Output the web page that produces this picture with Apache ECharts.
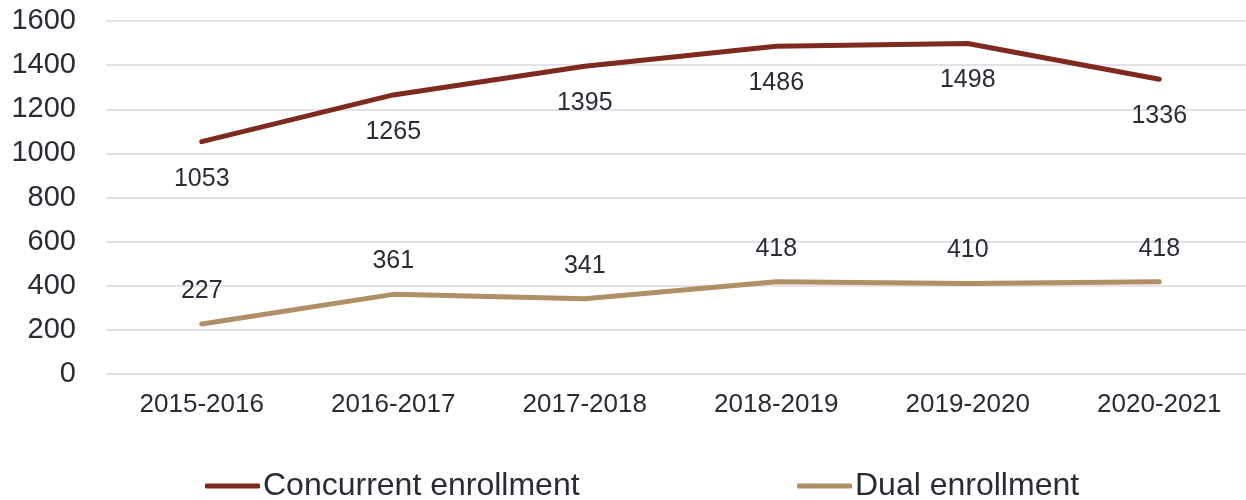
<!DOCTYPE html>
<html><head><meta charset="utf-8">
<script src="https://cdn.jsdelivr.net/npm/echarts@6/dist/echarts.min.js"></script>
<style>html,body{margin:0;padding:0;background:#fff}#c{width:1246px;height:500px}</style>
</head><body><div id="c"></div>
<script>
const categories = ['2015-2016','2016-2017','2017-2018','2018-2019','2019-2020','2020-2021'];
const concurrent = [1053,1265,1395,1486,1498,1336];
const dual = [227,361,341,418,410,418];
const yTicks = {min:0,max:1600,interval:200};
const FONT = 'Liberation Sans, Arial, sans-serif';
const TXT = '#2b2b36';
const chart = echarts.init(document.getElementById('c'), null, {renderer:'canvas'});
chart.setOption({
  animation:false,
  textStyle:{fontFamily:FONT},
  grid:{left:106,width:1149,top:21,height:353,containLabel:false,outerBoundsMode:'none'},
  xAxis:{type:'category',data:categories,boundaryGap:true,
    axisLine:{show:false},axisTick:{show:false},
    axisLabel:{color:TXT,fontSize:26,margin:18,fontFamily:FONT}},
  yAxis:{type:'value',min:yTicks.min,max:yTicks.max,interval:yTicks.interval,
    axisLine:{show:false},axisTick:{show:false},
    splitLine:{lineStyle:{color:'#d9d9e0',width:1.5}},
    axisLabel:{color:TXT,fontSize:29,margin:30,fontFamily:FONT,formatter:v=>String(v)}},
  legend:[
    {data:['Concurrent enrollment'],left:200,top:465,padding:5,itemWidth:55,itemHeight:5,icon:'roundRect',
     itemGap:5,textStyle:{color:TXT,fontSize:32,fontFamily:FONT,padding:[0,0,0,-2]}},
    {data:['Dual enrollment'],left:792,top:465,padding:5,itemWidth:55,itemHeight:5,icon:'roundRect',
     textStyle:{color:TXT,fontSize:32,fontFamily:FONT,padding:[0,0,0,-2]}}
  ],
  series:[
    {name:'Concurrent enrollment',type:'line',data:concurrent,symbol:'circle',symbolSize:1,showSymbol:true,
     lineStyle:{color:'#7f2a1e',width:5,cap:'round'},itemStyle:{color:'#7f2a1e'},
     label:{show:true,position:'bottom',distance:24,color:TXT,fontSize:25,fontFamily:FONT}},
    {name:'Dual enrollment',type:'line',data:dual,symbol:'circle',symbolSize:1,showSymbol:true,
     lineStyle:{color:'#b08f66',width:5,cap:'round'},itemStyle:{color:'#b08f66'},
     label:{show:true,position:'top',distance:20,color:TXT,fontSize:25,fontFamily:FONT}}
  ]
});
</script></body></html>
